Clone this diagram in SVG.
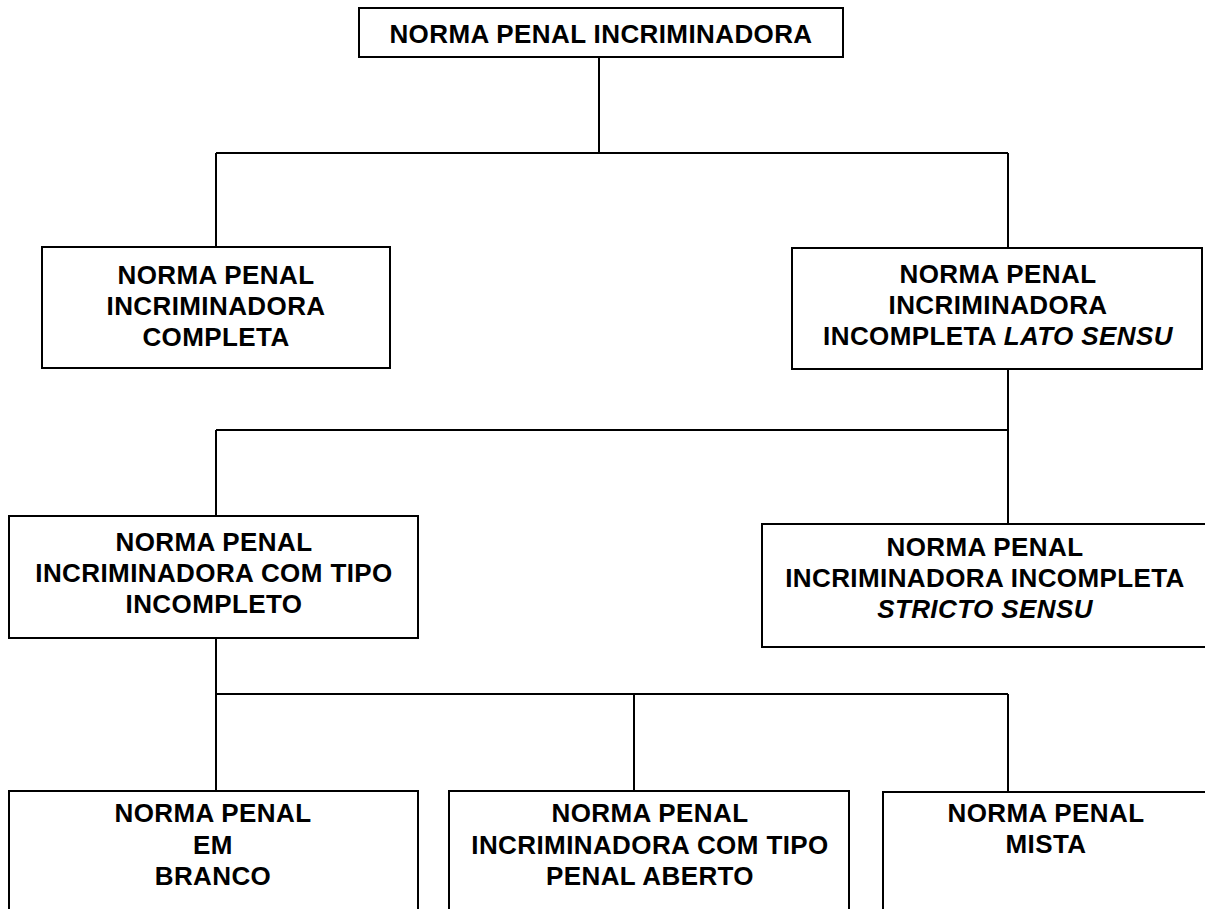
<svg xmlns="http://www.w3.org/2000/svg" width="1205" height="909" viewBox="0 0 1205 909">
<style>
.box{fill:#fff;stroke:#000;stroke-width:2}
.t{font-family:"Liberation Sans",Arial,sans-serif;font-weight:bold;font-size:26px;letter-spacing:0.4px;fill:#000;text-anchor:middle}
.i{font-style:italic}
.c{fill:none;stroke:#000;stroke-width:2}
</style>
<rect width="1205" height="909" fill="#fff"/>
<g id="connectors">
<path class="c" d="M599 57V153M216 153H1008M216 153V247M1008 153V248"/>
<path class="c" d="M1008 369V430M216 430H1008M216 430V516M1008 430V524"/>
<path class="c" d="M216 638V694M216 694H1008M216 694V791M634 694V791M1008 694V792"/>
</g>
<g id="n1">
<rect class="box" x="359" y="8" width="484" height="49"/>
<text class="t" x="601" y="43">NORMA PENAL INCRIMINADORA</text>
</g>
<g id="n2">
<rect class="box" x="42" y="247" width="348" height="121"/>
<text class="t" x="216" y="284">NORMA PENAL</text>
<text class="t" x="216" y="315">INCRIMINADORA</text>
<text class="t" x="216" y="346">COMPLETA</text>
</g>
<g id="n3">
<rect class="box" x="792" y="248" width="410" height="121"/>
<text class="t" x="998" y="283">NORMA PENAL</text>
<text class="t" x="998" y="314">INCRIMINADORA</text>
<text class="t" x="998" y="345">INCOMPLETA <tspan class="i">LATO SENSU</tspan></text>
</g>
<g id="n4">
<rect class="box" x="9" y="516" width="409" height="122"/>
<text class="t" x="214" y="551">NORMA PENAL</text>
<text class="t" x="214" y="582">INCRIMINADORA COM TIPO</text>
<text class="t" x="214" y="613">INCOMPLETO</text>
</g>
<g id="n5">
<rect class="box" x="762" y="524" width="446" height="123"/>
<text class="t" x="985" y="556">NORMA PENAL</text>
<text class="t" x="985" y="587">INCRIMINADORA INCOMPLETA</text>
<text class="t i" x="985" y="618">STRICTO SENSU</text>
</g>
<g id="n6">
<rect class="box" x="9" y="791" width="409" height="130"/>
<text class="t" x="213" y="822">NORMA PENAL</text>
<text class="t" x="213" y="854">EM</text>
<text class="t" x="213" y="885">BRANCO</text>
</g>
<g id="n7">
<rect class="box" x="449" y="791" width="400" height="130"/>
<text class="t" x="650" y="822">NORMA PENAL</text>
<text class="t" x="650" y="854">INCRIMINADORA COM TIPO</text>
<text class="t" x="650" y="885">PENAL ABERTO</text>
</g>
<g id="n8">
<rect class="box" x="883" y="792" width="326" height="130"/>
<text class="t" x="1046" y="822">NORMA PENAL</text>
<text class="t" x="1046" y="853">MISTA</text>
</g>
</svg>
